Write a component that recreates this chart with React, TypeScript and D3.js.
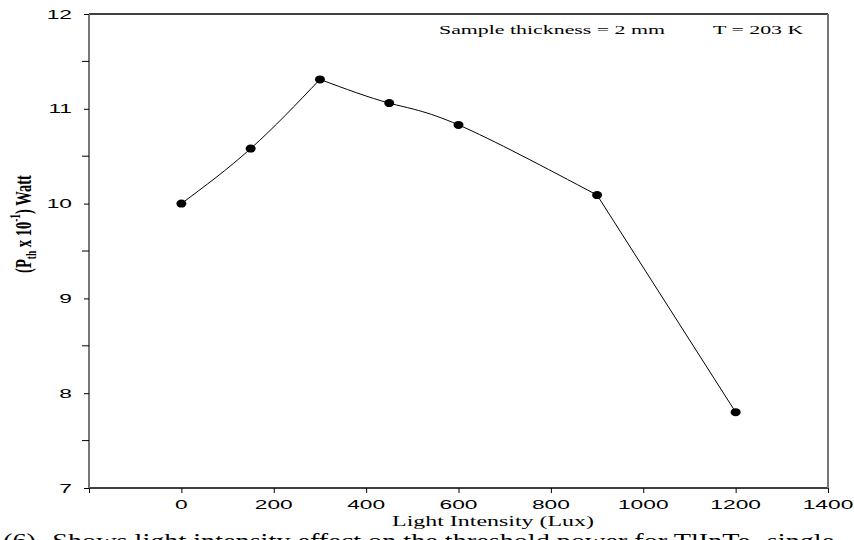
import { useEffect, useRef } from "react";
import * as d3 from "d3";

// 데이터: 조도(Lux) 별 임계 전력
const intensity = [0, 150, 300, 450, 600, 900, 1200];
const power = [10.0, 10.58, 11.31, 11.06, 10.83, 10.09, 7.8];
// 곡선 구간 (원본 그래프에서 꺾이는 지점 기준)
const segments = [
  [0, 1, 2],
  [2, 3, 4, 5],
  [5, 6],
];
const xTicks = [0, 200, 400, 600, 800, 1000, 1200, 1400];
const yTicks = [7, 8, 9, 10, 11, 12];
const yMinorTicks = [7.5, 8.5, 9.5, 10.5, 11.5];

const App = () => {
  const svgRef = useRef<SVGSVGElement>(null);

  useEffect(() => {
    if (!svgRef.current) return;
    const svg = d3.select(svgRef.current);
    svg.selectAll("*").remove();

    const width = 854;
    const height = 540;
    const margin = { top: 14, right: 26, bottom: 52, left: 89 };
    const innerWidth = width - margin.left - margin.right;
    const innerHeight = height - margin.top - margin.bottom;
    const sx = 1.75; // 원본 그림은 가로로 늘어난 글꼴

    svg.attr("width", width).attr("height", height);

    const g = svg.append("g").attr("transform", `translate(${margin.left},${margin.top})`);

    const xScale = d3.scaleLinear().domain([-200, 1400]).range([0, innerWidth]);
    const yScale = d3.scaleLinear().domain([7, 12]).range([innerHeight, 0]);

    // 프레임 (위/아래 검정, 좌/우 회색)
    g.append("line").attr("x1", 0).attr("x2", innerWidth).attr("y1", 0).attr("y2", 0)
      .attr("stroke", "#000").attr("stroke-width", 1.5);
    g.append("line").attr("x1", 0).attr("x2", innerWidth).attr("y1", innerHeight).attr("y2", innerHeight)
      .attr("stroke", "#000").attr("stroke-width", 1.5);
    g.append("line").attr("x1", 0).attr("x2", 0).attr("y1", 0).attr("y2", innerHeight)
      .attr("stroke", "#777").attr("stroke-width", 2);
    g.append("line").attr("x1", innerWidth).attr("x2", innerWidth).attr("y1", 0).attr("y2", innerHeight)
      .attr("stroke", "#777").attr("stroke-width", 2);

    const tickFont = "'Liberation Sans', Arial, sans-serif";
    const serif = "'Liberation Serif', 'Times New Roman', serif";

    // x축 눈금
    const xAxis = g.append("g").attr("transform", `translate(0,${innerHeight})`)
      .call(d3.axisBottom(xScale).tickValues([-200, ...xTicks]).tickSize(5).tickSizeOuter(0).tickFormat(() => ""));
    xAxis.select(".domain").remove();

    g.append("g").selectAll("text").data(xTicks).enter().append("text")
      .attr("transform", (d) => `translate(${xScale(d)},${innerHeight + 21}) scale(${sx},1)`)
      .attr("text-anchor", "middle")
      .attr("font-family", tickFont).attr("font-size", 13)
      .text((d) => String(d));

    // y축 눈금
    const yAxis = g.append("g")
      .call(d3.axisLeft(yScale).tickValues(yTicks).tickSize(5).tickFormat(() => ""));
    yAxis.select(".domain").remove();

    g.append("g").selectAll("line").data(yMinorTicks).enter().append("line")
      .attr("x1", -7).attr("x2", 0)
      .attr("y1", (d) => yScale(d)).attr("y2", (d) => yScale(d))
      .attr("stroke", "#000");

    g.append("g").selectAll("text").data(yTicks).enter().append("text")
      .attr("transform", (d) => `translate(-17,${yScale(d) + 4.5}) scale(${sx},1)`)
      .attr("text-anchor", "end")
      .attr("font-family", tickFont).attr("font-size", 13)
      .text((d) => String(d));

    // 선 그리기
    const lineGenerator = d3.line<number>()
      .x((i) => xScale(intensity[i]))
      .y((i) => yScale(power[i]))
      .curve(d3.curveNatural);

    g.selectAll(".seg").data(segments).enter().append("path")
      .attr("class", "seg")
      .attr("d", (d) => lineGenerator(d))
      .attr("fill", "none").attr("stroke", "#000").attr("stroke-width", 1);

    // 데이터 포인트
    g.selectAll(".pt").data(intensity).enter().append("ellipse")
      .attr("class", "pt")
      .attr("cx", (d) => xScale(d))
      .attr("cy", (d, i) => yScale(power[i]))
      .attr("rx", 5).attr("ry", 4)
      .attr("fill", "#000");

    // 주석
    svg.append("text").attr("transform", `translate(439,34) scale(${sx},1)`)
      .attr("font-family", serif).attr("font-size", 12.5)
      .text("Sample thickness = 2 mm");
    svg.append("text").attr("transform", `translate(713,34) scale(${sx},1)`)
      .attr("font-family", serif).attr("font-size", 12.5)
      .text("T = 203 K");

    // x축 라벨
    svg.append("text").attr("transform", `translate(493,526) scale(1.65,1)`).attr("text-anchor", "middle")
      .attr("font-family", serif).attr("font-size", 14.5).text("Light Intensity  (Lux)");

    // y축 라벨
    const yLabel = svg.append("text")
      .attr("transform", "translate(31,224) scale(1.6,1) rotate(-90)")
      .attr("text-anchor", "middle")
      .attr("font-family", serif).attr("font-size", 14.5).attr("font-weight", "bold");
    yLabel.append("tspan").text("(P");
    yLabel.append("tspan").attr("font-size", 9.5).attr("dy", 3).text("th");
    yLabel.append("tspan").attr("dy", -3).text(" x 10");
    yLabel.append("tspan").attr("font-size", 9.5).attr("dy", -7).text("-1");
    yLabel.append("tspan").attr("dy", 7).text(")  Watt");

    // 캡션 (아래쪽 잘림)
    svg.append("text").attr("transform", "translate(3,548) scale(1.41,1)")
      .attr("font-family", serif).attr("font-size", 20)
      .text("(6)- Shows light intensity effect on the threshold power for TlInTe\u2082 single");
  }, []);

  return (
    <svg
      ref={svgRef}
      style={{ position: "absolute", left: 0, top: 0, background: "#fff", overflow: "hidden" }}
    ></svg>
  );
};

export default App;
